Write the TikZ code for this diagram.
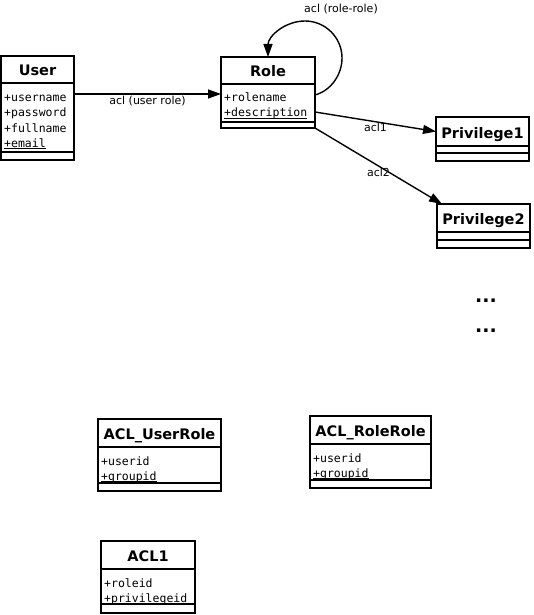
\documentclass[tikz,border=0pt]{standalone}
\usepackage{fontspec}
\setmainfont{DejaVu Sans}
\setmonofont{DejaVu Sans Mono}
\usetikzlibrary{arrows.meta,positioning}

\tikzset{
  clsname/.style={rectangle,draw=black,line width=1.8pt,anchor=north west,outer sep=0pt,inner sep=2pt,text height=13pt,text depth=0pt,font=\fontsize{14.5}{16}\selectfont\bfseries},
  clspart/.style={rectangle,draw=black,line width=1.8pt,anchor=north west,outer sep=0pt,inner sep=0pt},
  attr/.style={anchor=base west,inner sep=0pt,font=\fontsize{11.5}{14}\selectfont\ttfamily},
  rel/.style={line width=1.4pt,-{Triangle[length=13pt,width=9pt]}},
  rellabel/.style={inner sep=1pt,font=\fontsize{11}{13}\selectfont},
  moredots/.style={anchor=base,inner sep=0pt,font=\fontsize{19}{20}\selectfont\bfseries}
}

\begin{document}
\begin{tikzpicture}[x=1pt,y=-1pt]
\useasboundingbox (0,0) rectangle (533,615);
% User
\node[clsname,minimum width=73pt,minimum height=27pt] (user) at (1,56) {User};
\node[clspart,minimum width=73pt,minimum height=69pt] (usera) at (user.south west) {};
\node[clspart,minimum width=73pt,minimum height=8pt] (usero) at (usera.south west) {};
\node[attr] (user1) at (4,102) {+username};
\node[attr] (user2) at (4,117) {+password};
\node[attr] (user3) at (4,132) {+fullname};
\node[attr] (user4) at (4,147) {\underline{\smash{+email}}};
% Role
\node[clsname,minimum width=94pt,minimum height=27pt] (role) at (221,57) {Role};
\node[clspart,minimum width=94pt,minimum height=38pt] (rolea) at (role.south west) {};
\node[clspart,minimum width=94pt,minimum height=6pt] (roleo) at (rolea.south west) {};
\node[attr] (role1) at (224,102) {+rolename};
\node[attr] (role2) at (224,117) {\underline{\smash{+description}}};
% Privilege1, Privilege2
\node[clsname,minimum width=93pt,minimum height=29pt] (priv1) at (436,117) {Privilege1};
\node[clspart,minimum width=93pt,minimum height=7pt] (priv1a) at (priv1.south west) {};
\node[clspart,minimum width=93pt,minimum height=8pt] (priv1o) at (priv1a.south west) {};
\node[clsname,minimum width=93pt,minimum height=28pt] (priv2) at (437,204) {Privilege2};
\node[clspart,minimum width=93pt,minimum height=8pt] (priv2a) at (priv2.south west) {};
\node[clspart,minimum width=93pt,minimum height=8pt] (priv2o) at (priv2a.south west) {};
\node[moredots] (dots1) at (486,302.5) {...};
\node[moredots] (dots2) at (486,332.5) {...};
% relations
\draw[rel] ([yshift=-11pt]user.south east) -- node[rellabel,below] (lblur) {acl (user role)} ([yshift=-10pt]role.south west);
\draw[rel] ([yshift=8pt]rolea.east) .. controls (331,90.6) and (342,74.7) .. (342,58)
  .. controls (342,37.6) and (325.4,21) .. (305,21)
  .. controls (284.6,21) and (268,36.6) .. (role.north);
\node[rellabel] (lblrr) at (341,9) {acl (role-role)};
\draw[rel] ([yshift=-9pt]rolea.east) -- node[rellabel,below] (lbl1) {acl1} (priv1.west);
\draw[rel] (roleo.south east) -- node[rellabel,below] (lbl2) {acl2} ([xshift=5pt]priv2.north west);
% ACL tables
\node[clsname,minimum width=123pt,minimum height=28pt] (aclur) at (98,419) {ACL\_UserRole};
\node[clspart,minimum width=123pt,minimum height=36pt] (aclura) at (aclur.south west) {};
\node[clspart,minimum width=123pt,minimum height=8pt] (acluro) at (aclura.south west) {};
\node[attr] (aclur1) at (101,465) {+userid};
\node[attr] (aclur2) at (101,480) {\underline{\smash{+groupid}}};
\node[clsname,minimum width=121pt,minimum height=28pt] (aclrr) at (310,416) {ACL\_RoleRole};
\node[clspart,minimum width=121pt,minimum height=36pt] (aclrra) at (aclrr.south west) {};
\node[clspart,minimum width=121pt,minimum height=8pt] (aclrro) at (aclrra.south west) {};
\node[attr] (aclrr1) at (313,462) {+userid};
\node[attr] (aclrr2) at (313,477) {\underline{\smash{+groupid}}};
\node[clsname,minimum width=94pt,minimum height=28pt] (aclone) at (101,541) {ACL1};
\node[clspart,minimum width=94pt,minimum height=35pt] (aclonea) at (aclone.south west) {};
\node[clspart,minimum width=94pt,minimum height=9pt] (acloneo) at (aclonea.south west) {};
\node[attr] (aclone1) at (104,587) {+roleid};
\node[attr] (aclone2) at (104,602) {\underline{\smash{+privilegeid}}};
\end{tikzpicture}
\end{document}
